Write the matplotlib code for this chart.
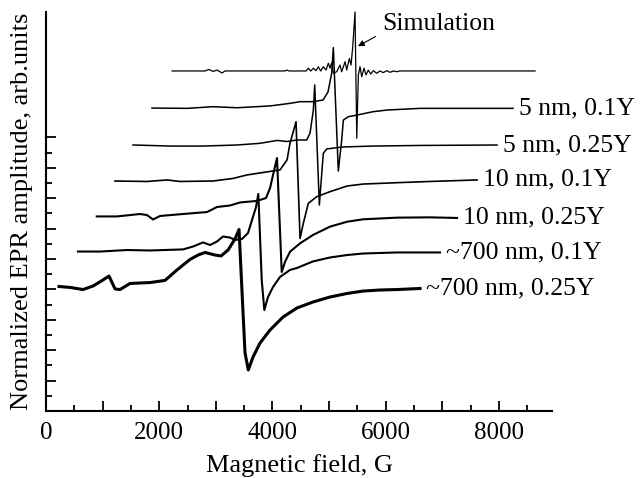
import numpy as np
import matplotlib
matplotlib.use('Agg')
import matplotlib.pyplot as plt
from matplotlib.ticker import MultipleLocator, FixedLocator

plt.rcParams['font.family'] = ['Liberation Serif', 'DejaVu Serif']

# EPR spectra (field in G, amplitude in arb. units, offsets included)
b_700_025 = [230, 424, 654, 830, 1007, 1113, 1219, 1307, 1484, 1837, 2102, 2314, 2544, 2686,
             2809, 2986, 3092, 3216, 3339, 3410, 3481, 3516, 3574, 3657, 3781, 3958, 4187,
             4435, 4717, 5018, 5318, 5601, 5901, 6201, 6608]
a_700_025 = [8.19, 8.13, 7.99, 8.22, 8.62, 8.88, 8.03, 7.99, 8.39, 8.45, 8.59, 9.28, 9.97, 10.26,
             10.43, 10.26, 10.20, 10.59, 11.32, 11.94, 6.45, 3.82, 2.70, 3.55, 4.47, 5.33, 6.18,
             6.78, 7.17, 7.50, 7.73, 7.89, 7.96, 7.99, 8.06]

b_700_01 = [565, 954, 1431, 1837, 2421, 2597, 2774, 2898, 3021, 3127, 3251, 3339, 3463, 3569,
            3640, 3710, 3751, 3811, 3857, 3922, 4011, 4134, 4311, 4435, 4717, 5018, 5318, 5601,
            6201, 6961]
a_700_01 = [10.49, 10.49, 10.59, 10.56, 10.63, 10.82, 11.09, 10.92, 11.15, 11.48, 11.41, 11.25,
            11.32, 11.71, 12.57, 13.42, 14.28, 8.62, 6.64, 7.50, 8.16, 8.82, 9.28, 9.41, 9.84,
            10.10, 10.26, 10.36, 10.43, 10.43]

b_10_025 = [896, 1254, 1661, 1784, 1890, 2014, 2421, 2845, 3021, 3251, 3428, 3728, 3887, 3958,
            4011, 4081, 4164, 4223, 4311, 4488, 4717, 5018, 5318, 5601, 6201, 6785, 7262]
a_10_025 = [12.80, 12.80, 12.96, 12.89, 12.60, 12.83, 12.96, 13.09, 13.42, 13.52, 13.72, 13.82,
            14.01, 14.67, 15.53, 16.64, 9.14, 9.82, 10.48, 11.03, 11.58, 12.13, 12.45, 12.61,
            12.72, 12.74, 12.70]

b_10_01 = [1219, 1784, 2138, 2368, 2951, 3304, 3551, 3834, 4134, 4258, 4311, 4369, 4417, 4488,
           4546, 4634, 4783, 5018, 5318, 5601, 6201, 6785, 7615]
a_10_01 = [15.13, 15.10, 15.20, 15.10, 15.13, 15.30, 15.53, 15.69, 15.86, 16.51, 17.63, 18.38,
           19.03, 11.35, 12.35, 13.66, 14.10, 14.43, 14.80, 14.93, 15.02, 15.10, 15.20]

b_5_025 = [1537, 2191, 2774, 3375, 3781, 4081, 4258, 4435, 4606, 4664, 4723, 4747, 4829, 4899,
           4959, 5247, 5777, 6608, 7968]
a_5_025 = [17.50, 17.43, 17.43, 17.50, 17.61, 17.80, 17.73, 17.83, 17.83, 18.27, 19.80, 21.45,
           13.55, 16.95, 17.24, 17.37, 17.43, 17.47, 17.50]

b_5_01 = [1873, 2491, 2951, 3375, 3958, 4311, 4488, 4717, 4894, 4982, 5048, 5076, 5164, 5224,
          5253, 5341, 5495, 5777, 6025, 6608, 7191, 8251]
a_5_01 = [19.93, 19.91, 20.02, 19.95, 20.07, 20.24, 20.35, 20.35, 20.46, 20.99, 22.24, 23.91,
          15.79, 17.83, 19.14, 19.36, 19.47, 19.69, 19.80, 19.91, 19.91, 19.91]

b_sim = [2226, 2809, 2880, 2951, 3021, 3110, 3163, 4223, 4258, 4293, 4594, 4634, 4677, 4723,
         4770, 4811, 4853, 4899, 4947, 4988, 5018, 5048, 5076, 5136, 5194, 5224, 5283, 5313,
         5359, 5389, 5419, 5459, 5490, 5518, 5548, 5578, 5618, 5654, 5694, 5737, 5783, 5843,
         5901, 5959, 6019, 6078, 6136, 6196, 6254, 8640]
a_sim = [22.37, 22.37, 22.47, 22.34, 22.43, 22.24, 22.37, 22.37, 22.43, 22.37, 22.37, 22.55,
         22.37, 22.55, 22.39, 22.65, 22.37, 22.65, 22.43, 22.88, 22.55, 22.91, 22.22, 22.32,
         22.76, 22.32, 22.98, 22.43, 23.20, 22.76, 23.97, 26.25, 17.94, 22.11, 22.65, 21.99,
         22.55, 22.11, 22.43, 22.17, 22.39, 22.22, 22.37, 22.26, 22.39, 22.28, 22.37, 22.32,
         22.37, 22.37]

labels = ['~700 nm, 0.25Y', '~700 nm, 0.1Y', '10 nm, 0.25Y', '10 nm, 0.1Y',
          '5 nm, 0.25Y', '5 nm, 0.1Y', None]
fields = [b_700_025, b_700_01, b_10_025, b_10_01, b_5_025, b_5_01, b_sim]
amps = [a_700_025, a_700_01, a_10_025, a_10_01, a_5_025, a_5_01, a_sim]
widths = [2.2, 1.5, 1.5, 1.2, 1.1, 1.1, 0.9]

fig = plt.figure(figsize=(6.41, 4.78), dpi=100)
ax = fig.add_axes([0.0718, 0.1402, 0.7894, 0.8347])

for b, a, lab, lw in zip(fields, amps, labels, widths):
    ax.plot(b, a, color='black', lw=lw, solid_joinstyle='round', clip_on=False)
    if lab:
        ax.annotate(lab, xy=(b[-1], a[-1]), xytext=(4, 0), textcoords='offset points',
                    ha='left', va='center', fontsize=18.5)

ax.annotate('Simulation', xy=(5512, 24.0), xytext=(5936, 25.45), ha='left', va='center',
            fontsize=18.5, annotation_clip=False,
            arrowprops=dict(arrowstyle='-|>', mutation_scale=9, lw=0.8, color='black',
                            relpos=(0.0, 0.1), shrinkA=3, shrinkB=0))

ax.set_xlim(0, 8940)
ax.set_ylim(0, 26.25)

ax.spines['top'].set_visible(False)
ax.spines['right'].set_visible(False)
for s in ['left', 'bottom']:
    ax.spines[s].set_linewidth(1.5)

ax.xaxis.set_major_locator(MultipleLocator(1000))
ax.xaxis.set_minor_locator(MultipleLocator(500))
ax.xaxis.set_major_formatter(plt.FuncFormatter(lambda v, p: '%d' % v if v % 2000 == 0 else ''))
ax.yaxis.set_major_locator(FixedLocator(np.arange(0, 19, 2)))
ax.yaxis.set_minor_locator(FixedLocator(np.arange(1, 18, 2)))
ax.set_yticklabels([])
ax.tick_params(which='major', direction='in', length=7, width=1.3, labelsize=18)
ax.tick_params(which='minor', direction='in', length=4, width=1.3)
ax.tick_params(axis='x', pad=8)

ax.set_xlabel('Magnetic field, G', fontsize=19, labelpad=7)
ax.set_ylabel('Normalized EPR amplitude, arb.units', fontsize=19, labelpad=6)

fig.savefig('out.png', dpi=100)
